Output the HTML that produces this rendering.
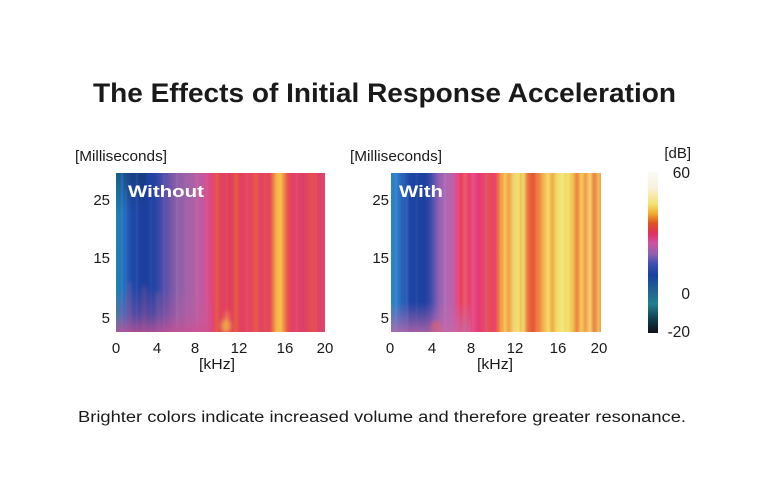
<!DOCTYPE html>
<html>
<head>
<meta charset="utf-8">
<style>
html,body{margin:0;padding:0;background:#fff;}
svg{display:block;}
text{font-family:"Liberation Sans",Arial,sans-serif;fill:#1a1a1a;}
</style>
</head>
<body>
<svg width="770" height="500" viewBox="0 0 770 500" xmlns="http://www.w3.org/2000/svg">
<defs>
  <filter id="blur1" x="-20%" y="-20%" width="140%" height="140%"><feGaussianBlur stdDeviation="0.7"/></filter>
  <filter id="blur2" x="-50%" y="-50%" width="200%" height="200%"><feGaussianBlur stdDeviation="2"/></filter>
  <linearGradient id="gL" gradientUnits="userSpaceOnUse" x1="116" y1="0" x2="325" y2="0">
    <stop offset="0" stop-color="#1d86a8"/>
    <stop offset="0.019" stop-color="#1f78b8"/>
    <stop offset="0.048" stop-color="#2462b8"/>
    <stop offset="0.077" stop-color="#1f48a8"/>
    <stop offset="0.139" stop-color="#1e3e9e"/>
    <stop offset="0.187" stop-color="#2444a4"/>
    <stop offset="0.211" stop-color="#3e4aa8"/>
    <stop offset="0.239" stop-color="#5a50a8"/>
    <stop offset="0.268" stop-color="#7a58a8"/>
    <stop offset="0.306" stop-color="#9060a8"/>
    <stop offset="0.354" stop-color="#a462a8"/>
    <stop offset="0.392" stop-color="#b85ea4"/>
    <stop offset="0.426" stop-color="#cc5498"/>
    <stop offset="0.450" stop-color="#dc4884"/>
    <stop offset="0.469" stop-color="#e4466c"/>
    <stop offset="0.483" stop-color="#e85a40"/>
    <stop offset="0.498" stop-color="#e04460"/>
    <stop offset="0.545" stop-color="#e23c60"/>
    <stop offset="0.574" stop-color="#e85a44"/>
    <stop offset="0.593" stop-color="#e2405e"/>
    <stop offset="0.651" stop-color="#e64660"/>
    <stop offset="0.670" stop-color="#ea5a44"/>
    <stop offset="0.689" stop-color="#e24460"/>
    <stop offset="0.737" stop-color="#e4485a"/>
    <stop offset="0.756" stop-color="#f08a40"/>
    <stop offset="0.770" stop-color="#f4b848"/>
    <stop offset="0.789" stop-color="#f4c050"/>
    <stop offset="0.804" stop-color="#ee8a44"/>
    <stop offset="0.823" stop-color="#e85048"/>
    <stop offset="0.842" stop-color="#e2406a"/>
    <stop offset="0.904" stop-color="#e04268"/>
    <stop offset="0.938" stop-color="#e6504e"/>
    <stop offset="0.967" stop-color="#e0406a"/>
    <stop offset="1" stop-color="#dc4470"/>
  </linearGradient>
  <linearGradient id="gR" gradientUnits="userSpaceOnUse" x1="391" y1="0" x2="601" y2="0">
    <stop offset="0" stop-color="#2a84c8"/>
    <stop offset="0.033" stop-color="#2a78c4"/>
    <stop offset="0.062" stop-color="#2a60b8"/>
    <stop offset="0.090" stop-color="#1e44a4"/>
    <stop offset="0.162" stop-color="#1e40a0"/>
    <stop offset="0.186" stop-color="#3848a8"/>
    <stop offset="0.210" stop-color="#6a58b0"/>
    <stop offset="0.233" stop-color="#9a62b2"/>
    <stop offset="0.271" stop-color="#b068b0"/>
    <stop offset="0.295" stop-color="#c060a8"/>
    <stop offset="0.314" stop-color="#e04c8c"/>
    <stop offset="0.333" stop-color="#e83e5c"/>
    <stop offset="0.352" stop-color="#ec5a70"/>
    <stop offset="0.371" stop-color="#e6406a"/>
    <stop offset="0.395" stop-color="#ea4a88"/>
    <stop offset="0.414" stop-color="#e03c78"/>
    <stop offset="0.433" stop-color="#e8406a"/>
    <stop offset="0.457" stop-color="#e05070"/>
    <stop offset="0.476" stop-color="#ec4a4a"/>
    <stop offset="0.495" stop-color="#e8407a"/>
    <stop offset="0.510" stop-color="#ee7040"/>
    <stop offset="0.529" stop-color="#f4a040"/>
    <stop offset="0.543" stop-color="#f0c860"/>
    <stop offset="0.562" stop-color="#f2a040"/>
    <stop offset="0.581" stop-color="#f0d070"/>
    <stop offset="0.605" stop-color="#f2e070"/>
    <stop offset="0.633" stop-color="#f0d060"/>
    <stop offset="0.652" stop-color="#ec7040"/>
    <stop offset="0.676" stop-color="#e85438"/>
    <stop offset="0.700" stop-color="#ee7a40"/>
    <stop offset="0.724" stop-color="#f0b050"/>
    <stop offset="0.748" stop-color="#f4d868"/>
    <stop offset="0.771" stop-color="#f0b448"/>
    <stop offset="0.790" stop-color="#f2da6a"/>
    <stop offset="0.814" stop-color="#f4e67a"/>
    <stop offset="0.843" stop-color="#f2e070"/>
    <stop offset="0.867" stop-color="#f0c050"/>
    <stop offset="0.886" stop-color="#ee8040"/>
    <stop offset="0.905" stop-color="#f2c858"/>
    <stop offset="0.929" stop-color="#f0a850"/>
    <stop offset="0.948" stop-color="#f4d070"/>
    <stop offset="0.967" stop-color="#ec8040"/>
    <stop offset="0.986" stop-color="#f0c060"/>
    <stop offset="1" stop-color="#eca050"/>
  </linearGradient>
  <linearGradient id="gCB" x1="0" y1="0" x2="0" y2="1">
    <stop offset="0" stop-color="#fbfaf6"/>
    <stop offset="0.10" stop-color="#f8f2dc"/>
    <stop offset="0.20" stop-color="#f5e070"/>
    <stop offset="0.255" stop-color="#f0b030"/>
    <stop offset="0.32" stop-color="#e05020"/>
    <stop offset="0.38" stop-color="#e03060"/>
    <stop offset="0.44" stop-color="#d050a0"/>
    <stop offset="0.51" stop-color="#9060b0"/>
    <stop offset="0.57" stop-color="#4050b0"/>
    <stop offset="0.64" stop-color="#1840a0"/>
    <stop offset="0.73" stop-color="#206090"/>
    <stop offset="0.82" stop-color="#208090"/>
    <stop offset="0.91" stop-color="#104050"/>
    <stop offset="1" stop-color="#101018"/>
  </linearGradient>
  <linearGradient id="gBotL" x1="0" y1="0" x2="0" y2="1">
    <stop offset="0" stop-color="#c8589a" stop-opacity="0"/>
    <stop offset="0.6" stop-color="#c8589a" stop-opacity="0.3"/>
    <stop offset="1" stop-color="#d05090" stop-opacity="0.75"/>
  </linearGradient>
  <linearGradient id="gBotR" x1="0" y1="0" x2="0" y2="1">
    <stop offset="0" stop-color="#c068b0" stop-opacity="0"/>
    <stop offset="1" stop-color="#c868a8" stop-opacity="0.75"/>
  </linearGradient>
  <linearGradient id="gTopL" x1="0" y1="0" x2="0" y2="1">
    <stop offset="0" stop-color="#103860" stop-opacity="0.5"/>
    <stop offset="1" stop-color="#103860" stop-opacity="0"/>
  </linearGradient>
  <clipPath id="cL"><rect x="116" y="173" width="209" height="159"/></clipPath>
  <clipPath id="cR"><rect x="391" y="173" width="210" height="159"/></clipPath>
</defs>

<rect width="770" height="500" fill="#fff"/>

<!-- Title -->
<text x="93" y="102" font-size="27" font-weight="bold" textLength="583" lengthAdjust="spacingAndGlyphs" fill="#141414">The Effects of Initial Response Acceleration</text>

<!-- LEFT PLOT -->
<rect x="116" y="173" width="209" height="159" fill="url(#gL)"/>
<g clip-path="url(#cL)">
<rect x="116" y="173" width="30" height="40" fill="url(#gTopL)"/>
<g opacity="0.3" filter="url(#blur1)">
  <rect x="121" y="173" width="2" height="159" fill="#5aa0e0"/>
  <rect x="125" y="190" width="1.5" height="142" fill="#4a90d8"/>
  <rect x="136" y="173" width="1.5" height="159" fill="#4a80d0"/>
  <rect x="150" y="200" width="1.5" height="132" fill="#3a70c0"/>
  <rect x="163" y="173" width="2" height="159" fill="#8a6ac0"/>
  <rect x="176" y="173" width="2" height="159" fill="#c080c0"/>
  <rect x="186" y="173" width="1.5" height="159" fill="#b070b8"/>
  <rect x="196" y="173" width="2" height="159" fill="#e070a8"/>
  <rect x="206" y="173" width="1.5" height="159" fill="#f06890"/>
  <rect x="226" y="173" width="1.5" height="159" fill="#f07050"/>
  <rect x="232" y="173" width="1.5" height="159" fill="#c03060"/>
  <rect x="246" y="173" width="1.5" height="159" fill="#f07060"/>
  <rect x="264" y="173" width="1.5" height="159" fill="#f06850"/>
  <rect x="296" y="173" width="1.5" height="159" fill="#f07070"/>
  <rect x="302" y="173" width="1.5" height="159" fill="#c03060"/>
  <rect x="315" y="173" width="1.5" height="159" fill="#f07050"/>
</g>
<rect x="116" y="288" width="95" height="44" fill="url(#gBotL)"/>
<g filter="url(#blur2)" opacity="0.45">
  <rect x="128" y="282" width="3" height="50" fill="#b060a0"/>
  <rect x="143" y="286" width="3" height="46" fill="#b060a0"/>
  <rect x="157" y="292" width="2" height="40" fill="#c070a8"/>
</g>
<g filter="url(#blur2)">
  <ellipse cx="226" cy="326" rx="5" ry="7" fill="#f0c040" opacity="0.75"/>
  <ellipse cx="227" cy="316" rx="2" ry="5" fill="#f4c850" opacity="0.5"/>
</g>
</g>

<text x="128" y="197" font-size="17" font-weight="bold" textLength="76" lengthAdjust="spacingAndGlyphs" style="fill:#fff">Without</text>

<!-- left axes labels -->
<text x="75" y="161" font-size="15" textLength="92" lengthAdjust="spacingAndGlyphs">[Milliseconds]</text>
<text x="110" y="205" font-size="15" text-anchor="end">25</text>
<text x="110" y="263" font-size="15" text-anchor="end">15</text>
<text x="110" y="323" font-size="15" text-anchor="end">5</text>
<text x="116" y="353" font-size="15" text-anchor="middle">0</text>
<text x="157" y="353" font-size="15" text-anchor="middle">4</text>
<text x="195" y="353" font-size="15" text-anchor="middle">8</text>
<text x="239" y="353" font-size="15" text-anchor="middle">12</text>
<text x="285" y="353" font-size="15" text-anchor="middle">16</text>
<text x="325" y="353" font-size="15" text-anchor="middle">20</text>
<text x="217" y="369" font-size="15" text-anchor="middle" textLength="36" lengthAdjust="spacingAndGlyphs">[kHz]</text>

<!-- RIGHT PLOT -->
<rect x="391" y="173" width="210" height="159" fill="url(#gR)"/>
<g clip-path="url(#cR)">
<g opacity="0.3" filter="url(#blur1)">
  <rect x="395" y="173" width="2" height="159" fill="#60a8e8"/>
  <rect x="401" y="173" width="1.5" height="159" fill="#2050a8"/>
  <rect x="406" y="190" width="2" height="142" fill="#4a8ad8"/>
  <rect x="416" y="173" width="1.5" height="159" fill="#3a68c0"/>
  <rect x="444" y="173" width="2" height="159" fill="#d08ad0"/>
  <rect x="458" y="173" width="1.5" height="159" fill="#f0609a"/>
  <rect x="472" y="173" width="1.5" height="159" fill="#f07090"/>
  <rect x="485" y="173" width="1.5" height="159" fill="#f07060"/>
  <rect x="500" y="173" width="1.5" height="159" fill="#f8d070"/>
  <rect x="520" y="173" width="1.5" height="159" fill="#e07040"/>
  <rect x="536" y="173" width="1.5" height="159" fill="#f0a060"/>
  <rect x="551" y="173" width="1.5" height="159" fill="#e08040"/>
  <rect x="565" y="173" width="1.5" height="159" fill="#f0b050"/>
  <rect x="584" y="173" width="1.5" height="159" fill="#e07040"/>
  <rect x="596" y="173" width="1.5" height="159" fill="#e07040"/>
</g>
<rect x="391" y="302" width="80" height="30" fill="url(#gBotR)"/>
<ellipse cx="436" cy="327" rx="5" ry="6" fill="#e86060" opacity="0.55" filter="url(#blur2)"/>
</g>

<text x="399" y="197" font-size="17" font-weight="bold" textLength="44" lengthAdjust="spacingAndGlyphs" style="fill:#fff">With</text>

<!-- right axes labels -->
<text x="350" y="161" font-size="15" textLength="92" lengthAdjust="spacingAndGlyphs">[Milliseconds]</text>
<text x="389" y="205" font-size="15" text-anchor="end">25</text>
<text x="389" y="263" font-size="15" text-anchor="end">15</text>
<text x="389" y="323" font-size="15" text-anchor="end">5</text>
<text x="390" y="353" font-size="15" text-anchor="middle">0</text>
<text x="432" y="353" font-size="15" text-anchor="middle">4</text>
<text x="471" y="353" font-size="15" text-anchor="middle">8</text>
<text x="515" y="353" font-size="15" text-anchor="middle">12</text>
<text x="558" y="353" font-size="15" text-anchor="middle">16</text>
<text x="599" y="353" font-size="15" text-anchor="middle">20</text>
<text x="495" y="369" font-size="15" text-anchor="middle" textLength="36" lengthAdjust="spacingAndGlyphs">[kHz]</text>

<!-- COLORBAR -->
<rect x="648" y="172" width="10" height="161" fill="url(#gCB)"/>
<text x="691" y="158" font-size="15" text-anchor="end">[dB]</text>
<text x="690" y="178" font-size="15.5" text-anchor="end">60</text>
<text x="690" y="299" font-size="15.5" text-anchor="end">0</text>
<text x="690" y="337" font-size="15.5" text-anchor="end">-20</text>

<!-- Caption -->
<text x="78" y="422" font-size="15.5" textLength="608" lengthAdjust="spacingAndGlyphs">Brighter colors indicate increased volume and therefore greater resonance.</text>
</svg>
</body>
</html>
